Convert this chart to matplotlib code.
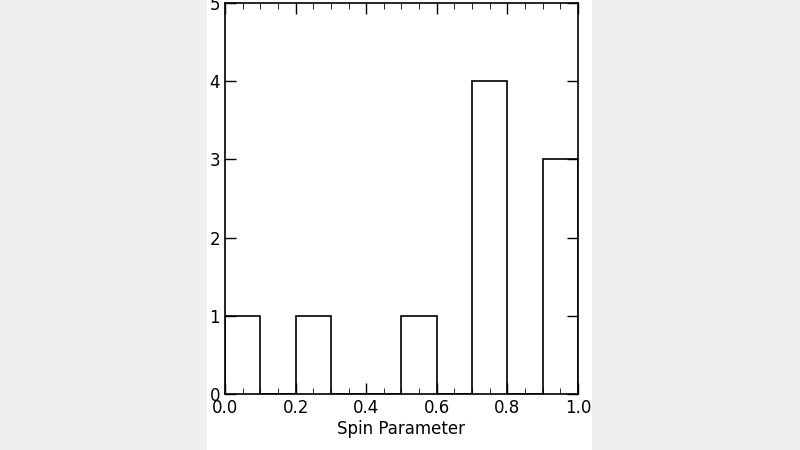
import numpy as np
import matplotlib.pyplot as plt

bin_edges = [0.0, 0.1, 0.2, 0.3, 0.4, 0.5, 0.6, 0.7, 0.8, 0.9, 1.0]
counts = [1, 0, 1, 0, 0, 1, 0, 4, 0, 3]
x_ticks = [0.0, 0.2, 0.4, 0.6, 0.8, 1.0]
y_ticks = [0, 1, 2, 3, 4, 5]

fig = plt.figure(figsize=(8, 4.5), dpi=100, facecolor='#efefef')

# white panel behind the plot
bg = fig.add_axes([207 / 800, 0, 385 / 800, 1], zorder=-1)
bg.set_facecolor('white')
bg.axis('off')
bg.add_patch(plt.Rectangle((0, 0), 1, 1, transform=bg.transAxes, color='white'))

ax = fig.add_axes([225 / 800, 1 - 394 / 450, 353 / 800, 391 / 450])
ax.set_facecolor('none')
ax.stairs(counts, bin_edges, color='black', linewidth=1.2)
ax.set_xlim(0, 1)
ax.set_ylim(0, 5)
ax.set_xticks(x_ticks)
ax.set_xticklabels([f'{t:.1f}' for t in x_ticks])
ax.set_yticks(y_ticks)
ax.tick_params(direction='in', top=True, right=True, length=8, labelsize=12, width=1)
ax.set_xticks(np.arange(0, 1.001, 0.05), minor=True)
ax.tick_params(which='minor', direction='in', top=True, length=4)
ax.set_xlabel('Spin Parameter', fontsize=12, labelpad=2)
for s in ax.spines.values():
    s.set_linewidth(1.2)

fig.savefig('out.png', dpi=100, facecolor=fig.get_facecolor())
